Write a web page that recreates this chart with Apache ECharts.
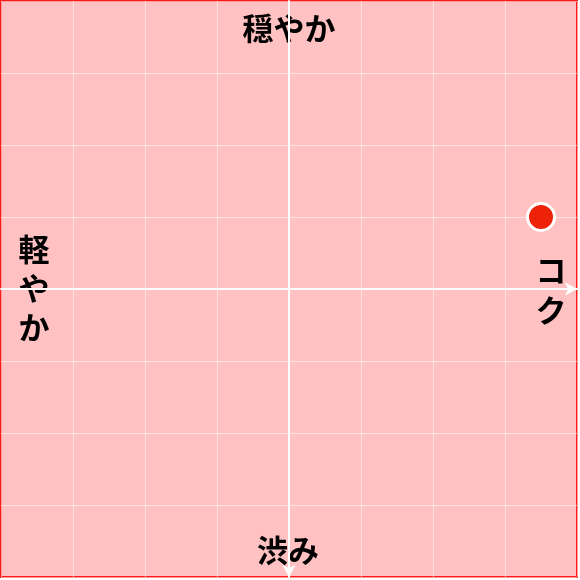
<!DOCTYPE html>
<html>
<head>
<meta charset="utf-8">
<script src="https://cdn.jsdelivr.net/npm/echarts@6/dist/echarts.min.js"></script>
<style>html,body{margin:0;padding:0;background:#fff;}#c{width:580px;height:580px;}</style>
</head>
<body>
<div id="c"></div>
<script>
const axisLabels = { top: '穏やか', bottom: '渋み', left: '軽\nや\nか', right: 'コ\nク' };
const points = [[3.5, 1]];
const xRange = [-4, 4];
const yRange = [-4, 4];

const chart = echarts.init(document.getElementById('c'));
const font = '"Noto Sans CJK JP", "Noto Sans", sans-serif';
const fnt = 'bold 31px ' + font;
chart.setOption({
  animation: false,
  backgroundColor: '#ffffff',
  grid: { left: 1, top: 1, width: 576, height: 576, show: true, backgroundColor: '#ffc1c1', borderColor: '#ff1a1a', borderWidth: 2 },
  xAxis: {
    type: 'value', min: xRange[0], max: xRange[1], interval: 1,
    axisLabel: { show: false }, axisTick: { show: false },
    axisLine: { show: true, onZero: true, lineStyle: { color: '#ffffff', width: 2 }, symbol: ['none', 'arrow'], symbolSize: [10, 12] },
    splitLine: { show: true, lineStyle: { color: 'rgba(255,255,255,0.55)', width: 1 } }
  },
  yAxis: {
    type: 'value', min: yRange[0], max: yRange[1], interval: 1,
    axisLabel: { show: false }, axisTick: { show: false },
    axisLine: { show: true, onZero: true, lineStyle: { color: '#ffffff', width: 2 }, symbol: ['arrow', 'none'], symbolSize: [10, 12] },
    splitLine: { show: true, lineStyle: { color: 'rgba(255,255,255,0.55)', width: 1 } }
  },
  series: [{
    type: 'scatter', data: points, symbolSize: 27,
    itemStyle: { color: '#ee2208', borderColor: '#ffffff', borderWidth: 3, opacity: 1 }
  }],
  graphic: [
    { type: 'text', x: 289, y: 28, style: { text: axisLabels.top, font: fnt, fill: '#000', align: 'center', verticalAlign: 'middle' } },
    { type: 'text', x: 288, y: 550, style: { text: axisLabels.bottom, font: fnt, fill: '#000', align: 'center', verticalAlign: 'middle' } },
    { type: 'text', x: 34, y: 288, style: { text: axisLabels.left, font: fnt, fill: '#000', align: 'center', verticalAlign: 'middle', lineHeight: 39 } },
    { type: 'text', x: 551, y: 290, style: { text: axisLabels.right, font: fnt, fill: '#000', align: 'center', verticalAlign: 'middle', lineHeight: 40 } }
  ]
});
</script>
</body>
</html>
